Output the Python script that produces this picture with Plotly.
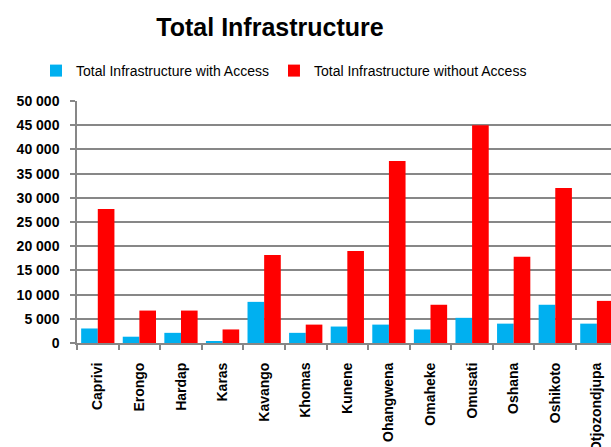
import plotly.graph_objects as go

regions = ["Caprivi", "Erongo", "Hardap", "Karas", "Kavango", "Khomas", "Kunene",
           "Ohangwena", "Omaheke", "Omusati", "Oshana", "Oshikoto", "Otjozondjupa"]
with_access = [3000, 1300, 2100, 300, 8500, 2100, 3400, 3800, 2800, 5200, 4000, 7900, 4000]
without_access = [27700, 6700, 6700, 2800, 18200, 3800, 19000, 37600, 7900, 45000, 17800, 32000, 8700]
y_ticks = [0, 5000, 10000, 15000, 20000, 25000, 30000, 35000, 40000, 45000, 50000]
series_names = ["Total Infrastructure with Access", "Total Infrastructure without Access"]

FONT = "Liberation Sans, Arial, sans-serif"
GRAY = "#878787"

fig = go.Figure()
fig.add_trace(go.Bar(x=regions, y=with_access, name=series_names[0],
                     marker=dict(color="#00B0F0", line=dict(width=0))))
fig.add_trace(go.Bar(x=regions, y=without_access, name=series_names[1],
                     marker=dict(color="#FF0000", line=dict(width=0))))

fig.update_layout(
    width=611, height=447,
    margin=dict(l=77, r=0, t=101, b=104, autoexpand=False),
    paper_bgcolor="white", plot_bgcolor="white",
    separators=". ",
    barmode="group", bargap=0.2, bargroupgap=0,
    font=dict(family=FONT, color="black"),
    title=dict(text="<b>Total Infrastructure</b>", x=270/611, xanchor="center",
               xref="container", y=1-27/447, yref="container", yanchor="middle",
               font=dict(size=25, family=FONT, color="black")),
    legend=dict(orientation="h", x=36/611, xanchor="left", xref="container",
                y=1-71/447, yref="container", yanchor="middle",
                font=dict(size=14, family=FONT, color="black"),
                itemwidth=30, tracegroupgap=0, bgcolor="rgba(0,0,0,0)"),
    showlegend=True,
)

fig.update_xaxes(
    type="category", range=[-0.5, 12.34], automargin=False,
    showline=True, linecolor=GRAY, linewidth=2,
    ticks="outside", tickson="boundaries", ticklen=5, tickcolor=GRAY, tickwidth=2,
    tickangle=-90, tickfont=dict(size=14, family=FONT, color="black", weight="bold"),
    ticklabelstandoff=12, showgrid=False,
)
fig.update_yaxes(
    range=[0, 50000], tickvals=y_ticks, tickformat=",d", automargin=False,
    showline=True, linecolor=GRAY, linewidth=1.5,
    ticks="outside", ticklen=5, tickcolor=GRAY, tickwidth=1.5,
    showgrid=True, gridcolor=GRAY, gridwidth=1.5, zeroline=False,
    tickfont=dict(size=14, family=FONT, color="black", weight="bold"),
    ticklabelstandoff=8,
)

fig.write_html("out.html", config={"displayModeBar": False},
               post_script="document.body.style.margin='0';document.body.style.overflow='hidden';")
